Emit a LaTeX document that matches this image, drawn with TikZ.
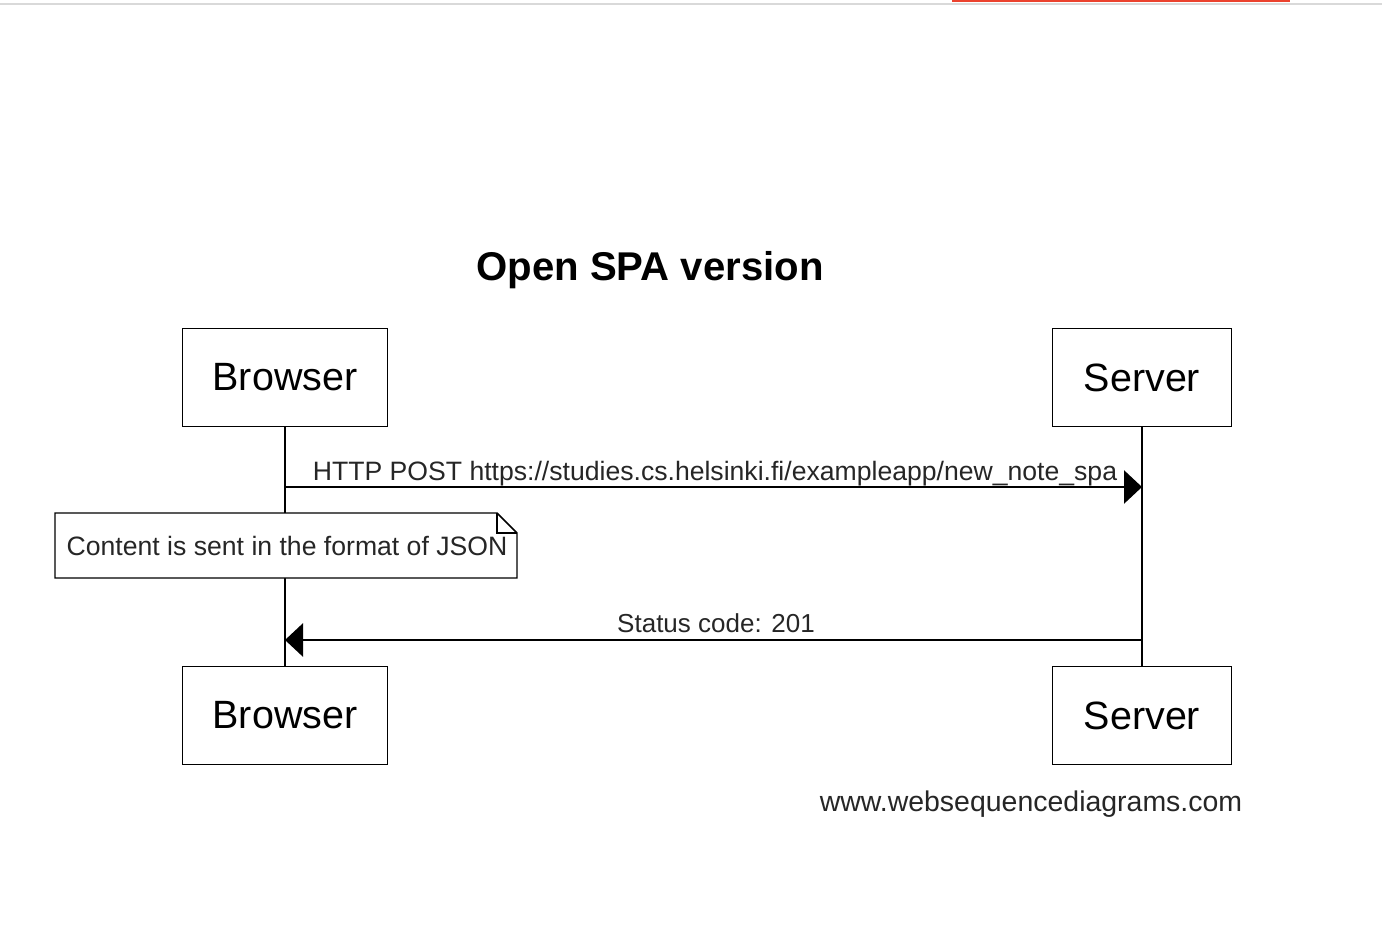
\documentclass[tikz,border=0pt]{standalone}
\usepackage{fontspec}
\setmainfont{Liberation Sans}
\usetikzlibrary{arrows.meta}
\begin{document}
\begin{tikzpicture}[x=0.75pt,y=-0.75pt,
  line width=1.1pt,
  actor/.style={draw,rectangle,font=\fontsize{29.6}{36}\selectfont,inner sep=0pt},
  msglbl/.style={anchor=base,font=\fontsize{19.95}{23}\selectfont,text=black!85,inner sep=0pt},
  msg/.style={-{Triangle[length=13.5pt,width=25pt]}},
  ]
\useasboundingbox (0,0) rectangle (1382,928);
% browser chrome artifact at the top
\fill[black!15] (0,3) rectangle (1382,5);
\fill[red!65!brown!90] (952,0) rectangle (1290,2);
% title
\node[anchor=base,font=\bfseries\fontsize{30.1}{36}\selectfont,inner sep=0pt] (title) at (650,280) {Open SPA version};
% participants
\node[actor,minimum width=205*0.75pt,minimum height=98*0.75pt] (bt) at (285,377.5) {Browser};
\node[actor,minimum width=179*0.75pt,minimum height=98*0.75pt] (st) at (1142,377.5) {Server};
\node[actor,minimum width=205*0.75pt,minimum height=98*0.75pt] (bb) at (285,715.5) {Browser};
\node[actor,minimum width=179*0.75pt,minimum height=98*0.75pt] (sb) at (1142,715.5) {Server};
% lifelines
\draw (bt.south) -- (bb.north);
\draw (st.south) -- (sb.north);
% message 1
\coordinate (m1s) at (285,487);
\coordinate (m1e) at (1142,487);
\draw[msg] (m1s) -- (m1e);
\node[msglbl] (l1) at (715,480) {HTTP POST https://studies.cs.helsinki.fi/exampleapp/new\_note\_spa};
% note
\coordinate (n1) at (55,513);
\coordinate (n2) at (497,513);
\coordinate (n3) at (517,533);
\coordinate (n4) at (517,578);
\coordinate (n5) at (55,578);
\filldraw[fill=white] (n1) -- (n2) -- (n3) -- (n4) -- (n5) -- cycle;
\draw (n2) -- (497,533) -- (n3);
\node[msglbl] (note) at (287,555) {Content is sent in the format of JSON};
% message 2
\coordinate (m2s) at (1142,640);
\coordinate (m2e) at (285,640);
\draw[msg] (m2s) -- (m2e);
\node[msglbl,font=\fontsize{19.5}{23}\selectfont] (l2) at (716,632) {Status code: 201};
% watermark
\node[anchor=base,font=\fontsize{21.35}{25}\selectfont,text=black!85,inner sep=0pt] (wm) at (1031,811) {www.websequencediagrams.com};
\end{tikzpicture}
\end{document}
